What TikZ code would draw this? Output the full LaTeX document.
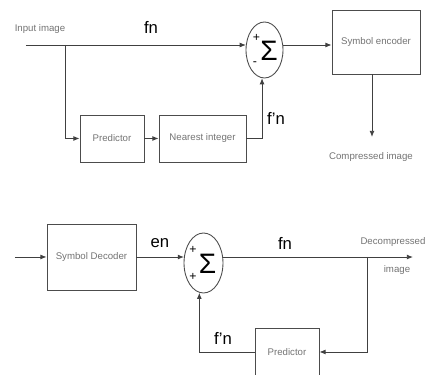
\documentclass[tikz,border=0pt]{standalone}
\usepackage{fontspec}
\setmainfont{Liberation Sans}
\usetikzlibrary{shapes.geometric,arrows.meta}

\begin{document}
\begin{tikzpicture}[x=0.02cm,y=0.02cm,
 blk/.style={draw=black!70,line width=0.5pt,inner sep=0pt,font=\fontsize{5.5}{6}\selectfont,text=black!55},
 lbl/.style={font=\fontsize{5.5}{6}\selectfont,text=black!55,inner sep=1pt},
 sig/.style={font=\fontsize{9.5}{10}\selectfont,inner sep=0pt},
 pm/.style={font=\fontsize{7}{7}\selectfont,inner sep=0pt},
 sumnode/.style={draw=black!70,line width=0.5pt,ellipse,inner sep=0pt},
 arr/.style={-{Latex[length=3.5pt,width=2.8pt]},draw=black!75,line width=0.5pt}]
\useasboundingbox (0,0) rectangle (427,375);
% encoder
\node[blk,minimum width=1.28cm,minimum height=0.94cm] (pred1) at (112,236.5) {Predictor};
\node[blk,minimum width=1.74cm,minimum height=0.94cm] (ni) at (202.5,236.5) {Nearest integer};
\node[blk,minimum width=1.76cm,minimum height=1.28cm] (enc) at (376,333) {Symbol encoder};
\node[sumnode,minimum width=0.74cm,minimum height=1.12cm] (sum1) at (264.5,325) {};
\node[sig,font=\fontsize{16}{16}\selectfont] (sg1) at (269,324) {Σ};
\node[pm] (pa1) at (256.5,337) {+};
\node[pm] (mi1) at (255,311) {-};
\coordinate (in1) at (26,330);
\coordinate (br1) at (65,330);
\coordinate (cend) at (372,238);
\draw[arr] (sum1.165 -| in1) -- (sum1.165);
\draw[arr] (br1) |- (pred1.west);
\draw[arr] (pred1) -- (ni);
\draw[arr] (ni.east) -| (sum1.265);
\draw[arr] (sum1.15) -- (sum1.15 -| enc.west);
\draw[arr] (enc.south -| cend) -- (cend);
\node[lbl] (inlbl) at (40,346) {Input image};
\node[sig] (fn1) at (151,348) {fn};
\node[sig] (fp1) at (276,257) {f'n};
\node[lbl] (comp) at (371,218) {Compressed image};
% decoder
\node[blk,minimum width=1.78cm,minimum height=1.32cm] (dec) at (91.5,118) {Symbol Decoder};
\node[sumnode,minimum width=0.78cm,minimum height=1.2cm] (sum2) at (203.5,112) {};
\node[sig,font=\fontsize{16}{16}\selectfont] (sg2) at (207.5,111) {Σ};
\node[pm] (pa2) at (193,125) {+};
\node[pm] (pb2) at (193,98) {+};
\node[blk,minimum width=1.28cm,minimum height=0.96cm] (pred2) at (287,23) {Predictor};
\coordinate (din) at (15,118);
\coordinate (dout) at (413,118);
\coordinate (br2) at (367,118);
\draw[arr] (din) -- (dec);
\draw[arr] (sum2.163 -| dec.east) -- (sum2.163);
\draw[arr] (sum2.17) -- (sum2.17 -| dout);
\draw[arr] (br2) |- (pred2.east);
\draw[arr] (pred2.west) -| (sum2.262);
\node[sig] (en2) at (160,132) {en};
\node[sig] (fn2) at (285,132) {fn};
\node[sig] (fp2) at (223,37) {f'n};
\node[lbl] (decomp) at (393,133) {Decompressed};
\node[lbl] (img) at (397,105) {image};
\end{tikzpicture}
\end{document}
